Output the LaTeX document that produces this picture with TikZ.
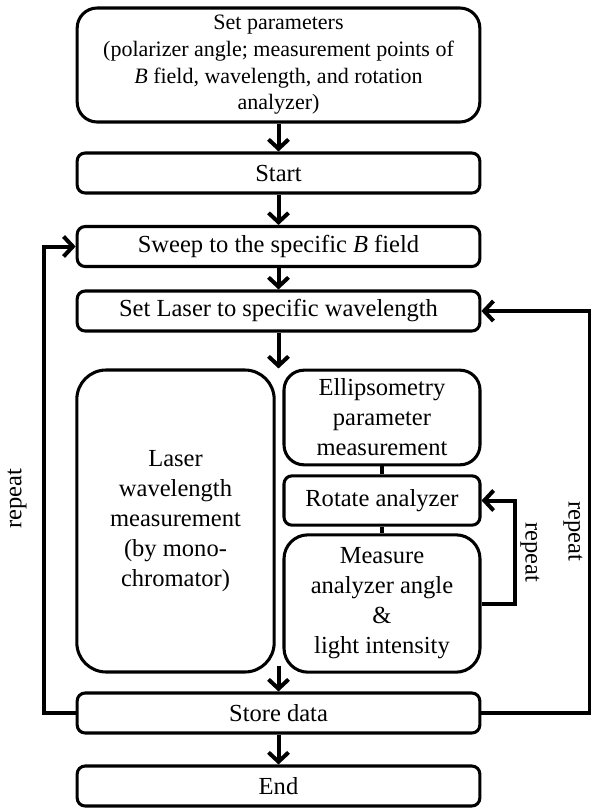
\documentclass[tikz,border=0pt]{standalone}
\usepackage{fontspec}
\setmainfont{Liberation Serif}
\usetikzlibrary{arrows.meta}
\usetikzlibrary{positioning}

\tikzset{
  flow/.style={draw, line width=2.3pt, rounded corners=6pt, align=center, inner sep=2pt},
  wide/.style={flow, minimum width=302pt, minimum height=30pt},
  link/.style={line width=3pt, -{Straight Barb[length=7pt,width=15pt]}},
  tie/.style={line width=2.4pt},
}

\begin{document}
\begin{tikzpicture}[x=0.75pt, y=-0.75pt, font=\fontsize{18.4}{22.5}\selectfont]
\useasboundingbox (0,0) rectangle (590,810);

        \node[wide, minimum height=85.5pt, rounded corners=15pt, font=\fontsize{16.5}{20}\selectfont] (params) at (278.5,65)
              {Set parameters\\(polarizer angle; measurement points of\\\textit{B} field, wavelength, and rotation\\analyzer)};
        \node[wide] (start) at (278.5,173) {Start};
        \node[wide] (sweep) at (278.5,246.5) {Sweep to the specific \textit{B} field};
        \node[wide] (laser) at (278.5,311) {Set Laser to specific wavelength};
        \node[flow, rounded corners=22pt, minimum width=148pt, minimum height=226.5pt] (mono) at (175.5,521)
              {Laser\\wavelength\\measurement\\(by mono-\\chromator)};
        \node[flow, rounded corners=15pt, minimum width=147pt, minimum height=71pt] (ellip) at (382,417.5)
              {Ellipsometry\\parameter\\measurement};
        \node[flow, minimum width=147pt, minimum height=37pt] (rotate) at (382,500.5) {Rotate analyzer};
        \node[flow, rounded corners=18pt, minimum width=147pt, minimum height=103pt] (meas) at (382,603.5)
              {Measure\\analyzer angle\\\&\\light intensity};
        \node[wide] (store) at (278.5,713) {Store data};
        \node[wide] (stop) at (278.5,786) {End};

        \node[rotate=90]  (replong)  at (17,499)  {repeat};
        \node[rotate=-90] (repouter) at (573,531) {repeat};
        \node[rotate=-90] (repinner) at (530,552) {repeat};

        \draw[link] (params) -- (start);
        \draw[link] (start) -- (sweep);
        \draw[link] (sweep) -- (laser);
        \draw[link] (laser) -- (laser |- mono.north);
        \draw[link] ([yshift=6pt]store |- mono.south) -- (store);
        \draw[link] (store) -- (stop);

        \draw[tie] (ellip) -- (rotate);
        \draw[tie] (rotate) -- (meas);

        \draw[link] (meas.east) -- ++(33,0) |- (rotate.east);
        \draw[link] (store.west) -- ++(-32,0) |- (sweep.west);
        \draw[link] (store.east) -- ++(109,0) |- (laser.east);
\end{tikzpicture}
\end{document}
